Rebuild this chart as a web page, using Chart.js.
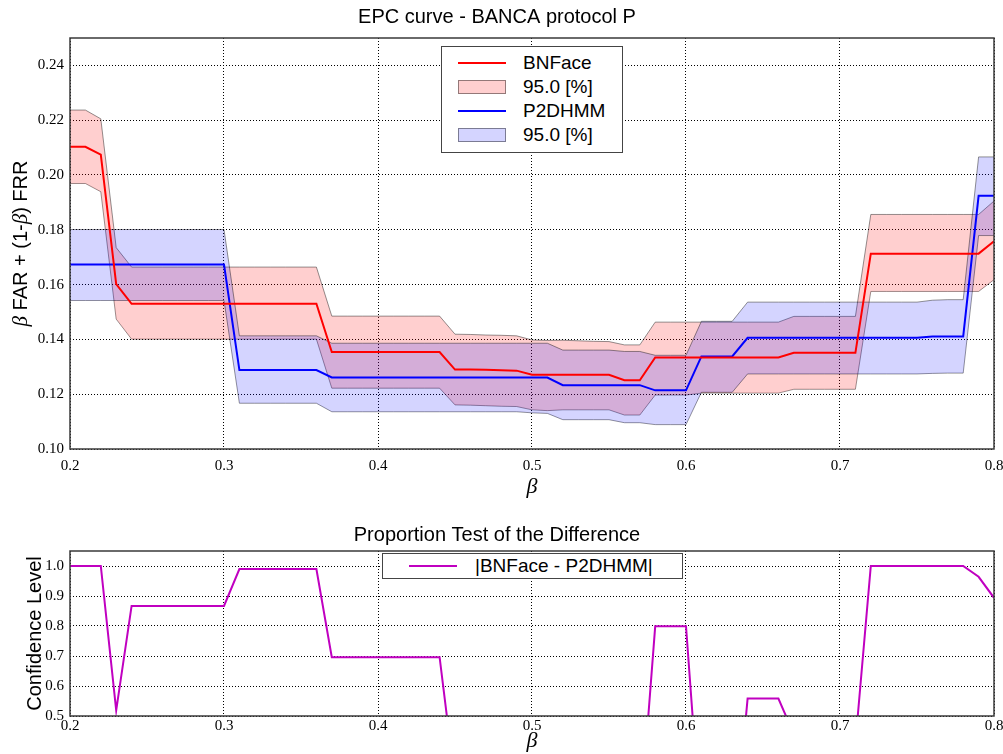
<!DOCTYPE html>
<html>
<head>
<meta charset="utf-8">
<script src="https://cdn.jsdelivr.net/npm/chart.js@4.4.0/dist/chart.umd.min.js"></script>
<style>
  body { margin: 0; background: #fff; }
  #wrap { position: relative; width: 1003px; height: 754px; overflow: hidden; }
  canvas { position: absolute; left: 0; }
  #epc { top: 0; }
  #prop { top: 500px; }
  .legend { position: absolute; box-sizing: border-box; background: #fff; border: 1px solid #444;
            font: 19px 'Liberation Sans', Arial, sans-serif; color: #000; }
  .legend .row { position: absolute; left: 0; right: 0; height: 24px; }
  .legend .sw { position: absolute; width: 48px; }
  .legend .txt { position: absolute; top: 0; line-height: 24px; white-space: nowrap; }
</style>
</head>
<body>
<div id="wrap">
  <canvas id="epc" width="1003" height="500"></canvas>
  <canvas id="prop" width="1003" height="254"></canvas>
  <div id="legTop" class="legend" style="left:441px;top:46px;width:182px;height:107px;"></div>
  <div id="legBot" class="legend" style="left:382px;top:553px;width:301px;height:26px;"></div>
</div>
<script>
// beta values (x axis), 0.20 .. 0.80
const betas = [0.20, 0.21, 0.22, 0.23, 0.24, 0.25, 0.26, 0.27, 0.28, 0.29,
  0.30, 0.31, 0.32, 0.33, 0.34, 0.35, 0.36, 0.37, 0.38, 0.39,
  0.40, 0.41, 0.42, 0.43, 0.44, 0.45, 0.46, 0.47, 0.48, 0.49,
  0.50, 0.51, 0.52, 0.53, 0.54, 0.55, 0.56, 0.57, 0.58, 0.59,
  0.60, 0.61, 0.62, 0.63, 0.64, 0.65, 0.66, 0.67, 0.68, 0.69,
  0.70, 0.71, 0.72, 0.73, 0.74, 0.75, 0.76, 0.77, 0.78, 0.79, 0.80];

const bnface = [0.2103, 0.2103, 0.2074, 0.1602, 0.1530, 0.1530, 0.1530, 0.1530, 0.1530, 0.1530,
  0.1530, 0.1530, 0.1530, 0.1530, 0.1530, 0.1530, 0.1530, 0.1354, 0.1354, 0.1354,
  0.1354, 0.1354, 0.1354, 0.1354, 0.1354, 0.1290, 0.1290, 0.1289, 0.1287, 0.1286,
  0.1271, 0.1271, 0.1271, 0.1271, 0.1271, 0.1271, 0.1251, 0.1251, 0.1334, 0.1334,
  0.1334, 0.1334, 0.1334, 0.1334, 0.1334, 0.1334, 0.1334, 0.1351, 0.1351, 0.1351,
  0.1351, 0.1351, 0.1713, 0.1713, 0.1713, 0.1713, 0.1713, 0.1713, 0.1713, 0.1713, 0.1758];
const bnUpper = [0.2237, 0.2237, 0.2205, 0.1735, 0.1664, 0.1664, 0.1664, 0.1664, 0.1664, 0.1664,
  0.1664, 0.1664, 0.1664, 0.1664, 0.1664, 0.1664, 0.1664, 0.1485, 0.1485, 0.1485,
  0.1485, 0.1485, 0.1485, 0.1485, 0.1485, 0.1419, 0.1418, 0.1416, 0.1415, 0.1413,
  0.1398, 0.1396, 0.1397, 0.1395, 0.1393, 0.1392, 0.1380, 0.1380, 0.1463, 0.1463,
  0.1463, 0.1463, 0.1463, 0.1463, 0.1463, 0.1463, 0.1463, 0.1484, 0.1484, 0.1484,
  0.1484, 0.1484, 0.1856, 0.1856, 0.1856, 0.1856, 0.1856, 0.1856, 0.1856, 0.1856, 0.1905];
const bnLower = [0.1969, 0.1969, 0.1939, 0.1474, 0.1401, 0.1401, 0.1401, 0.1401, 0.1401, 0.1401,
  0.1401, 0.1401, 0.1401, 0.1401, 0.1401, 0.1401, 0.1401, 0.1222, 0.1222, 0.1222,
  0.1222, 0.1222, 0.1222, 0.1222, 0.1222, 0.1161, 0.1160, 0.1158, 0.1156, 0.1155,
  0.1143, 0.1140, 0.1143, 0.1143, 0.1143, 0.1143, 0.1124, 0.1124, 0.1197, 0.1197,
  0.1197, 0.1204, 0.1204, 0.1204, 0.1204, 0.1204, 0.1204, 0.1218, 0.1218, 0.1218,
  0.1218, 0.1218, 0.1575, 0.1575, 0.1575, 0.1575, 0.1575, 0.1575, 0.1575, 0.1575, 0.1618];

const p2dhmm = [0.1673, 0.1673, 0.1673, 0.1673, 0.1673, 0.1673, 0.1673, 0.1673, 0.1673, 0.1673,
  0.1673, 0.1288, 0.1288, 0.1288, 0.1288, 0.1288, 0.1288, 0.1261, 0.1261, 0.1261,
  0.1261, 0.1261, 0.1261, 0.1261, 0.1261, 0.1261, 0.1261, 0.1261, 0.1261, 0.1261,
  0.1261, 0.1261, 0.1233, 0.1233, 0.1233, 0.1233, 0.1233, 0.1233, 0.1214, 0.1214,
  0.1214, 0.1338, 0.1338, 0.1338, 0.1406, 0.1406, 0.1406, 0.1406, 0.1406, 0.1406,
  0.1406, 0.1406, 0.1406, 0.1406, 0.1406, 0.1406, 0.1411, 0.1411, 0.1411, 0.1924, 0.1924];
const p2Upper = [0.1801, 0.1801, 0.1801, 0.1801, 0.1801, 0.1801, 0.1801, 0.1801, 0.1801, 0.1801,
  0.1801, 0.1413, 0.1413, 0.1413, 0.1413, 0.1413, 0.1413, 0.1386, 0.1386, 0.1386,
  0.1386, 0.1386, 0.1386, 0.1386, 0.1386, 0.1386, 0.1386, 0.1386, 0.1386, 0.1386,
  0.1386, 0.1386, 0.1361, 0.1361, 0.1361, 0.1361, 0.1356, 0.1356, 0.1342, 0.1342,
  0.1342, 0.1466, 0.1466, 0.1466, 0.1536, 0.1536, 0.1536, 0.1536, 0.1536, 0.1536,
  0.1536, 0.1536, 0.1536, 0.1536, 0.1536, 0.1536, 0.1543, 0.1545, 0.1545, 0.2066, 0.2066];
const p2Lower = [0.1542, 0.1542, 0.1542, 0.1542, 0.1542, 0.1542, 0.1542, 0.1542, 0.1542, 0.1542,
  0.1542, 0.1167, 0.1167, 0.1167, 0.1167, 0.1167, 0.1167, 0.1136, 0.1136, 0.1136,
  0.1136, 0.1136, 0.1136, 0.1136, 0.1136, 0.1136, 0.1136, 0.1136, 0.1136, 0.1136,
  0.1132, 0.1130, 0.1107, 0.1107, 0.1107, 0.1107, 0.1096, 0.1096, 0.1089, 0.1089,
  0.1089, 0.1207, 0.1207, 0.1207, 0.1274, 0.1274, 0.1274, 0.1274, 0.1274, 0.1274,
  0.1274, 0.1274, 0.1274, 0.1274, 0.1274, 0.1274, 0.1276, 0.1277, 0.1277, 0.1779, 0.1779];

// |BNFace - P2DHMM| confidence level (values under 0.5 are off the plot)
const confLevel = [1.000, 1.000, 1.000, 0.519, 0.867, 0.867, 0.867, 0.867, 0.867, 0.867,
  0.867, 0.990, 0.990, 0.990, 0.990, 0.990, 0.990, 0.696, 0.696, 0.696,
  0.696, 0.696, 0.696, 0.696, 0.696, 0.280, 0.250, 0.220, 0.200, 0.180,
  0.150, 0.120, 0.100, 0.100, 0.120, 0.150, 0.140, 0.130, 0.799, 0.799,
  0.799, 0.100, 0.050, 0.000, 0.558, 0.558, 0.558, 0.440, 0.400, 0.400,
  0.400, 0.410, 1.000, 1.000, 1.000, 1.000, 1.000, 1.000, 1.000, 0.964, 0.894];

const xTicks = [0.2, 0.3, 0.4, 0.5, 0.6, 0.7, 0.8];
const xTickLabels = ['0.2', '0.3', '0.4', '0.5', '0.6', '0.7', '0.8'];
const yTicksTop = [0.10, 0.12, 0.14, 0.16, 0.18, 0.20, 0.22, 0.24];
const yTickLabelsTop = ['0.10', '0.12', '0.14', '0.16', '0.18', '0.20', '0.22', '0.24'];
const yTicksBot = [0.5, 0.6, 0.7, 0.8, 0.9, 1.0];
const yTickLabelsBot = ['0.5', '0.6', '0.7', '0.8', '0.9', '1.0'];

const seriesNames = ['BNFace', 'P2DHMM'];
const bandName = '95.0 [%]';
const diffName = '|BNFace - P2DHMM|';
// y label of the top plot, pieces: [text, isGreek]
const yTitleTop = [['β', true], [' FAR + (1-', false], ['β', true], [') FRR', false]];

const SANS = "'Liberation Sans', Arial, sans-serif";
const SERIF = "'Liberation Serif', 'Times New Roman', serif";
const RED = '#ff0000', BLUE = '#0000ff', MAG = '#c000c0';
const RED_FILL = 'rgba(255,0,0,0.19)', BLUE_FILL = 'rgba(0,0,255,0.17)';
const EDGE = 'rgba(0,0,0,0.42)';

const pts = arr => betas.map((b, i) => ({ x: b, y: arr[i] }));

const frame = {
  id: 'frame',
  afterDatasetsDraw(chart) {
    const { ctx, chartArea: a } = chart;
    ctx.save();
    ctx.strokeStyle = '#3a3a3a';
    ctx.lineWidth = 1.5;
    ctx.strokeRect(a.left, a.top, a.right - a.left, a.bottom - a.top);
    ctx.restore();
  }
};

// rotated y title with italic greek letters, like the mathtext label
const mixedTitle = {
  id: 'mixedTitle',
  afterDraw(chart, args, opts) {
    if (!opts.parts) return;
    const { ctx, chartArea: a } = chart;
    const fontOf = g => g ? 'italic 21px ' + SERIF : '20px ' + SANS;
    ctx.save();
    let total = 0;
    opts.parts.forEach(p => { ctx.font = fontOf(p[1]); total += ctx.measureText(p[0]).width; });
    ctx.translate(opts.x, (a.top + a.bottom) / 2);
    ctx.rotate(-Math.PI / 2);
    ctx.fillStyle = '#000';
    ctx.textBaseline = 'middle';
    let x = -total / 2;
    opts.parts.forEach(p => {
      ctx.font = fontOf(p[1]);
      ctx.fillText(p[0], x, 0);
      x += ctx.measureText(p[0]).width;
    });
    ctx.restore();
  }
};

function xScale(h, pad) {
  return {
    type: 'linear', min: 0.2, max: 0.8,
    afterBuildTicks: s => { s.ticks = xTicks.map(v => ({ value: v })); },
    afterFit: s => { s.height = h; s.paddingLeft = 0; s.paddingRight = 0; },
    grid: { color: '#000', lineWidth: 1, drawTicks: false },
    border: { display: false, dash: [1, 2] },
    ticks: { padding: pad, color: '#000', font: { family: SERIF, size: 15 }, maxRotation: 0,
      callback: (v, i) => xTickLabels[i] },
    title: { display: true, text: 'β', color: '#000',
      font: { family: SERIF, style: 'italic', size: 22, lineHeight: 1 }, padding: { top: 0, bottom: 2 } }
  };
}

function yScale(min, max, ticks, labels, title, titlePad) {
  return {
    type: 'linear', min: min, max: max,
    afterBuildTicks: s => { s.ticks = ticks.map(v => ({ value: v })); },
    afterFit: s => { s.width = 70; s.paddingTop = 0; s.paddingBottom = 0; },
    grid: { color: '#000', lineWidth: 1, drawTicks: false },
    border: { display: false, dash: [1, 2] },
    ticks: { padding: 6, color: '#000', font: { family: SERIF, size: 15 },
      callback: (v, i) => labels[i] },
    title: { display: !!title, text: title, color: '#000',
      font: { family: SANS, size: 20, lineHeight: 1 }, padding: { top: titlePad, bottom: 0 } }
  };
}

const line = (label, arr, color, width, order, extra) => Object.assign({
  label: label, data: pts(arr), borderColor: color, borderWidth: width,
  pointRadius: 0, tension: 0, fill: false, order: order, clip: 0
}, extra || {});

new Chart(document.getElementById('epc'), {
  type: 'line',
  data: {
    datasets: [
      line(seriesNames[0], bnface, RED, 2, 0),
      line(bandName, bnUpper, EDGE, 1, 2, { fill: '+1', backgroundColor: RED_FILL }),
      line('', bnLower, EDGE, 1, 2),
      line(seriesNames[1], p2dhmm, BLUE, 2, 0),
      line(bandName, p2Upper, EDGE, 1, 1, { fill: '+1', backgroundColor: BLUE_FILL }),
      line('', p2Lower, EDGE, 1, 1)
    ]
  },
  options: {
    responsive: false, animation: false,
    layout: { padding: { left: 0, right: 9, top: 0, bottom: 0 } },
    plugins: {
      legend: { display: false }, tooltip: { enabled: false },
      title: { display: true, text: 'EPC curve - BANCA protocol P', color: '#000',
        font: { family: SANS, size: 20, weight: 'normal', lineHeight: 1.2 }, padding: { top: 5, bottom: 9 } },
      mixedTitle: { parts: yTitleTop, x: 21 }
    },
    scales: {
      x: xScale(51, 8),
      y: yScale(0.10, 0.25, yTicksTop, yTickLabelsTop, '', 11)
    }
  },
  plugins: [frame, mixedTitle]
});

new Chart(document.getElementById('prop'), {
  type: 'line',
  data: {
    datasets: [line(diffName, confLevel, MAG, 2, 0)]
  },
  options: {
    responsive: false, animation: false,
    layout: { padding: { left: 0, right: 9, top: 0, bottom: 0 } },
    plugins: {
      legend: { display: false }, tooltip: { enabled: false },
      title: { display: true, text: 'Proportion Test of the Difference', color: '#000',
        font: { family: SANS, size: 20, weight: 'normal', lineHeight: 1.2 }, padding: { top: 23, bottom: 4 } }
    },
    scales: {
      x: xScale(38, 1),
      y: yScale(0.5, 1.05, yTicksBot, yTickLabelsBot, 'Confidence Level', 25)
    }
  },
  plugins: [frame]
});

// legends
function legendRow(box, top, swatch, text, textLeft, swLeft) {
  const row = document.createElement('div');
  row.className = 'row';
  row.style.top = top + 'px';
  const sw = document.createElement('div');
  sw.className = 'sw';
  sw.style.left = swLeft + 'px';
  if (swatch.line) {
    sw.style.top = '11px'; sw.style.height = '2px'; sw.style.background = swatch.line;
  } else {
    sw.style.top = '5px'; sw.style.height = '14px'; sw.style.boxSizing = 'border-box';
    sw.style.background = swatch.fill; sw.style.border = '1px solid ' + EDGE;
  }
  const t = document.createElement('div');
  t.className = 'txt';
  t.style.left = textLeft + 'px';
  t.textContent = text;
  row.appendChild(sw); row.appendChild(t);
  box.appendChild(row);
}
const legTop = document.getElementById('legTop');
legendRow(legTop, 4, { line: RED }, seriesNames[0], 81, 16);
legendRow(legTop, 28, { fill: RED_FILL }, bandName, 81, 16);
legendRow(legTop, 52, { line: BLUE }, seriesNames[1], 81, 16);
legendRow(legTop, 76, { fill: BLUE_FILL }, bandName, 81, 16);
const legBot = document.getElementById('legBot');
legendRow(legBot, 0, { line: MAG }, diffName, 92, 26);
</script>
</body>
</html>
